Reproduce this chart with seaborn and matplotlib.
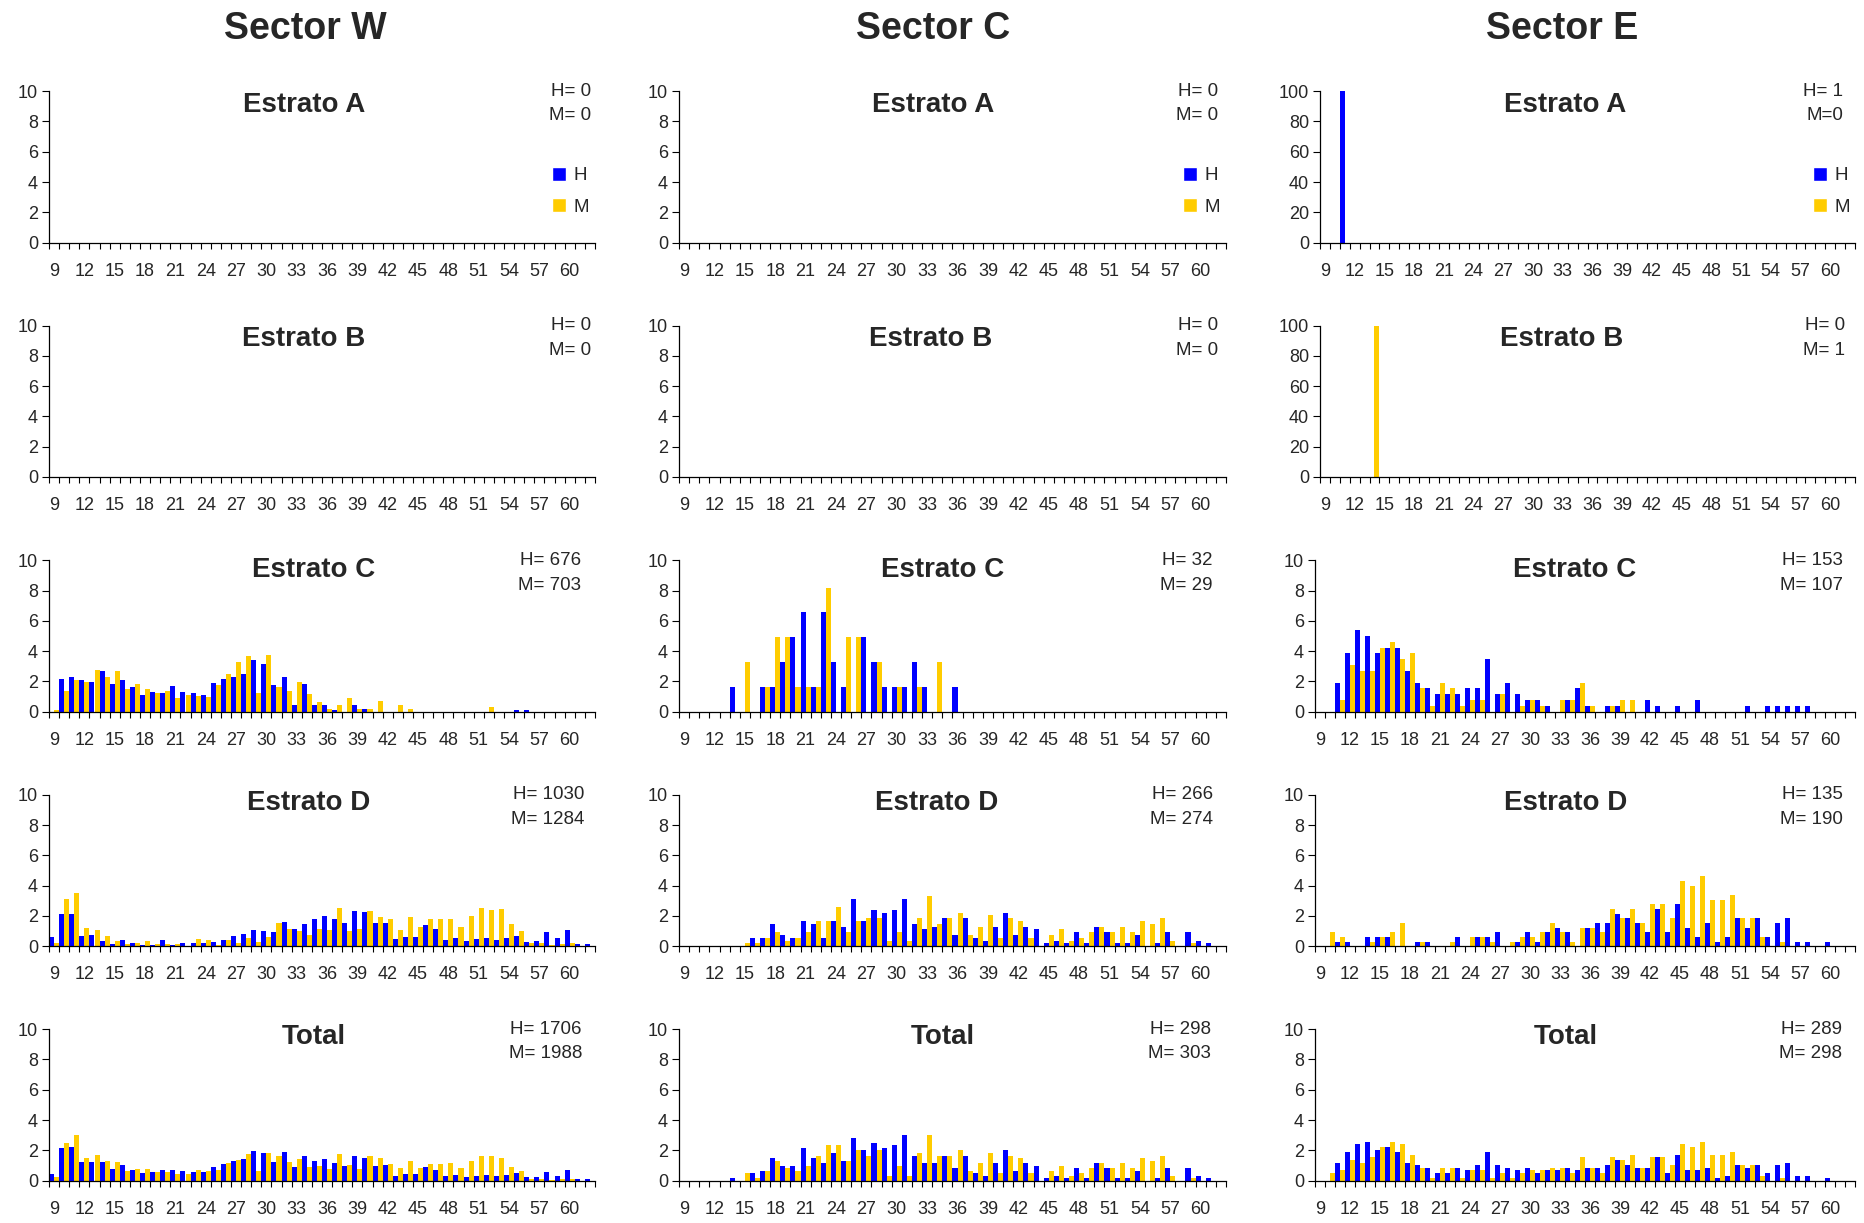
import matplotlib
matplotlib.use("Agg")
import matplotlib.pyplot as plt
import seaborn as sns
import pandas as pd
from matplotlib.patches import Patch

sns.set_theme(style="white")
plt.rcParams["font.family"] = ["Liberation Sans", "DejaVu Sans"]

# ---------------- data ----------------
sizes = [9, 10, 11, 12, 13, 14, 15, 16, 17,
         18, 19, 20, 21, 22, 23, 24, 25, 26,
         27, 28, 29, 30, 31, 32, 33, 34, 35,
         36, 37, 38, 39, 40, 41, 42, 43, 44,
         45, 46, 47, 48, 49, 50, 51, 52, 53,
         54, 55, 56, 57, 58, 59, 60, 61, 62]
tick_labels = [9, 12, 15, 18, 21, 24, 27, 30, 33, 36, 39, 42, 45, 48, 51, 54, 57, 60]
sectors = ["Sector W", "Sector C", "Sector E"]
strata = ["Estrato A", "Estrato B", "Estrato C", "Estrato D", "Total"]
sexes = ["H", "M"]

empty = [0, 0, 0, 0, 0, 0, 0, 0, 0,
         0, 0, 0, 0, 0, 0, 0, 0, 0,
         0, 0, 0, 0, 0, 0, 0, 0, 0,
         0, 0, 0, 0, 0, 0, 0, 0, 0,
         0, 0, 0, 0, 0, 0, 0, 0, 0,
         0, 0, 0, 0, 0, 0, 0, 0, 0]

# Sector W
w_c_h = [0, 2.15, 2.3, 2.1, 1.95, 2.7, 1.85, 2.1, 1.65,
         1.1, 1.3, 1.25, 1.7, 1.3, 1.25, 1.1, 1.9, 2.15,
         2.3, 2.5, 3.4, 3.15, 1.75, 2.3, 0.45, 1.85, 0.45,
         0.45, 0.1, 0, 0.45, 0.15, 0, 0, 0, 0,
         0, 0, 0, 0, 0, 0, 0, 0, 0,
         0, 0.1, 0.1, 0, 0, 0, 0, 0, 0]
w_c_m = [0.1, 1.35, 2.1, 1.95, 2.75, 2.3, 2.7, 1.5, 1.85,
         1.5, 1.25, 1.35, 0.9, 1.1, 1.05, 0.95, 1.75, 2.5,
         3.3, 3.65, 1.25, 3.75, 1.65, 1.35, 1.95, 1.15, 0.65,
         0.15, 0.45, 0.9, 0.15, 0.15, 0.7, 0, 0.45, 0.15,
         0, 0, 0, 0, 0, 0, 0, 0.3, 0,
         0, 0, 0, 0, 0, 0, 0, 0, 0]
w_d_h = [0.6, 2.1, 2.1, 0.65, 0.75, 0.35, 0.15, 0.4, 0.2,
         0.1, 0.1, 0.4, 0.1, 0.2, 0.2, 0.2, 0.3, 0.4,
         0.65, 0.8, 1.05, 1.0, 0.95, 1.6, 1.15, 1.45, 1.8,
         2.0, 1.8, 1.55, 2.3, 2.25, 1.55, 1.55, 0.5, 0.6,
         0.6, 1.4, 1.15, 0.4, 0.55, 0.35, 0.5, 0.55, 0.4,
         0.55, 0.65, 0.3, 0.35, 0.95, 0.55, 1.05, 0.15, 0.15]
w_d_m = [0.25, 3.1, 3.5, 1.2, 1.05, 0.65, 0.35, 0.15, 0.2,
         0.35, 0.15, 0.15, 0.15, 0, 0.5, 0.4, 0.1, 0.4,
         0.2, 0.55, 0.3, 0.6, 1.55, 1.15, 1.0, 0.75, 1.15,
         1.05, 2.5, 1.0, 1.15, 2.3, 1.95, 1.8, 1.05, 1.95,
         1.25, 1.8, 1.8, 1.8, 1.3, 2.0, 2.55, 2.4, 2.45,
         1.45, 1.0, 0.2, 0.2, 0.1, 0.15, 0.2, 0, 0]
w_t_h = [0.45, 2.15, 2.2, 1.25, 1.25, 1.25, 0.75, 1.05, 0.7,
         0.5, 0.6, 0.7, 0.7, 0.65, 0.55, 0.6, 0.9, 1.1,
         1.3, 1.45, 1.95, 1.85, 1.25, 1.9, 0.9, 1.65, 1.3,
         1.45, 1.15, 0.95, 1.65, 1.5, 0.95, 1.05, 0.3, 0.45,
         0.45, 0.9, 0.7, 0.3, 0.35, 0.25, 0.3, 0.35, 0.3,
         0.35, 0.5, 0.25, 0.25, 0.55, 0.3, 0.7, 0.1, 0.1]
w_t_m = [0.25, 2.5, 3.0, 1.5, 1.7, 1.3, 1.25, 0.65, 0.8,
         0.75, 0.55, 0.6, 0.45, 0.45, 0.7, 0.65, 0.7, 1.15,
         1.35, 1.75, 0.65, 1.85, 1.65, 1.25, 1.45, 0.9, 0.95,
         0.75, 1.75, 1.05, 0.8, 1.6, 1.5, 1.1, 0.85, 1.3,
         0.85, 1.1, 1.1, 1.15, 0.85, 1.3, 1.65, 1.65, 1.5,
         0.9, 0.65, 0.1, 0.1, 0.05, 0.1, 0.1, 0, 0]

# Sector C
c_c_h = [0, 0, 0, 0, 0, 1.64, 0, 0, 1.64,
         1.64, 3.28, 4.92, 6.56, 1.64, 6.56, 3.28, 1.64, 0,
         4.92, 3.28, 1.64, 1.64, 1.64, 3.28, 1.64, 0, 0,
         1.64, 0, 0, 0, 0, 0, 0, 0, 0,
         0, 0, 0, 0, 0, 0, 0, 0, 0,
         0, 0, 0, 0, 0, 0, 0, 0, 0]
c_c_m = [0, 0, 0, 0, 0, 0, 3.28, 0, 1.64,
         4.92, 4.92, 1.64, 1.64, 1.64, 8.20, 0, 4.92, 4.92,
         0, 3.28, 0, 1.64, 0, 1.64, 0, 3.28, 0,
         0, 0, 0, 0, 0, 0, 0, 0, 0,
         0, 0, 0, 0, 0, 0, 0, 0, 0,
         0, 0, 0, 0, 0, 0, 0, 0, 0]
c_d_h = [0, 0, 0, 0, 0, 0, 0, 0.56, 0.56,
         1.48, 0.74, 0.56, 1.67, 1.48, 0.56, 1.67, 1.30, 3.15,
         1.67, 2.41, 2.22, 2.41, 3.15, 1.48, 1.11, 1.30, 1.85,
         0.74, 1.85, 0.56, 0.37, 1.30, 2.22, 0.74, 1.30, 1.11,
         0.19, 0.37, 0.19, 0.93, 0.19, 1.30, 0.93, 0.19, 0.19,
         0.74, 0, 0.19, 0.93, 0, 0.93, 0.37, 0.19, 0]
c_d_m = [0, 0, 0, 0, 0, 0, 0.19, 0.19, 0.56,
         0.93, 0.37, 0.56, 0.93, 1.67, 1.67, 2.59, 0.93, 1.67,
         1.85, 1.85, 0.37, 0.93, 0.37, 1.85, 3.33, 1.48, 1.85,
         2.22, 0.74, 1.30, 2.04, 0.56, 1.85, 1.67, 0.56, 0,
         0.74, 1.11, 0.37, 0.56, 0.93, 1.30, 0.93, 1.30, 0.93,
         1.67, 1.48, 1.85, 0.37, 0, 0.19, 0, 0, 0]
c_t_h = [0, 0, 0, 0, 0, 0.17, 0, 0.50, 0.67,
         1.50, 1.00, 1.00, 2.16, 1.50, 1.16, 1.83, 1.33, 2.83,
         2.00, 2.50, 2.16, 2.33, 3.00, 1.66, 1.16, 1.16, 1.66,
         0.83, 1.66, 0.50, 0.33, 1.16, 2.00, 0.67, 1.16, 1.00,
         0.17, 0.33, 0.17, 0.83, 0.17, 1.16, 0.83, 0.17, 0.17,
         0.67, 0, 0.17, 0.83, 0, 0.83, 0.33, 0.17, 0]
c_t_m = [0, 0, 0, 0, 0, 0, 0.50, 0.17, 0.67,
         1.33, 0.83, 0.67, 1.00, 1.66, 2.33, 2.33, 1.33, 2.00,
         1.66, 2.00, 0.33, 1.00, 0.33, 1.83, 3.00, 1.66, 1.66,
         2.00, 0.67, 1.16, 1.83, 0.50, 1.66, 1.50, 0.50, 0,
         0.67, 1.00, 0.33, 0.50, 0.83, 1.16, 0.83, 1.16, 0.83,
         1.50, 1.33, 1.66, 0.33, 0, 0.17, 0, 0, 0]

# Sector E
e_a_h = [0, 0, 100, 0, 0, 0, 0, 0, 0,
         0, 0, 0, 0, 0, 0, 0, 0, 0,
         0, 0, 0, 0, 0, 0, 0, 0, 0,
         0, 0, 0, 0, 0, 0, 0, 0, 0,
         0, 0, 0, 0, 0, 0, 0, 0, 0,
         0, 0, 0, 0, 0, 0, 0, 0, 0]
e_b_m = [0, 0, 0, 0, 0, 100, 0, 0, 0,
         0, 0, 0, 0, 0, 0, 0, 0, 0,
         0, 0, 0, 0, 0, 0, 0, 0, 0,
         0, 0, 0, 0, 0, 0, 0, 0, 0,
         0, 0, 0, 0, 0, 0, 0, 0, 0,
         0, 0, 0, 0, 0, 0, 0, 0, 0]
e_c_h = [0, 0, 1.92, 3.85, 5.38, 5.00, 3.85, 4.23, 4.23,
         2.69, 1.92, 1.54, 1.15, 1.15, 1.15, 1.54, 1.54, 3.46,
         1.15, 1.92, 1.15, 0.77, 0.77, 0.38, 0, 0.77, 1.54,
         0.38, 0, 0.38, 0.38, 0, 0, 0.77, 0.38, 0,
         0.38, 0, 0.77, 0, 0, 0, 0, 0.38, 0,
         0.38, 0.38, 0.38, 0.38, 0.38, 0, 0, 0, 0]
e_c_m = [0, 0, 0.77, 3.08, 2.69, 2.69, 4.23, 4.62, 3.46,
         3.85, 1.54, 0.38, 1.92, 1.54, 0.38, 0.77, 0.77, 0,
         1.15, 0, 0.38, 0.77, 0.38, 0, 0.77, 0.77, 1.92,
         0.38, 0, 0.38, 0.77, 0.77, 0, 0, 0, 0,
         0, 0, 0, 0, 0, 0, 0, 0, 0,
         0, 0, 0, 0, 0, 0, 0, 0, 0]
e_d_h = [0, 0, 0.31, 0.31, 0, 0.62, 0.62, 0.62, 0,
         0, 0.31, 0.31, 0, 0, 0.62, 0, 0.62, 0.62,
         0.92, 0, 0.31, 0.92, 0.31, 0.92, 1.23, 0.92, 0,
         1.23, 1.54, 1.54, 2.15, 1.85, 1.54, 0.92, 2.46, 0.92,
         2.77, 1.23, 0.62, 1.54, 0.31, 0.62, 1.85, 1.23, 1.85,
         0.62, 1.54, 1.85, 0.31, 0.31, 0, 0.31, 0, 0]
e_d_m = [0, 0.92, 0.62, 0, 0, 0.31, 0.62, 0.92, 1.54,
         0, 0.31, 0, 0, 0.31, 0, 0.62, 0.62, 0.31,
         0, 0.31, 0.62, 0.62, 0.92, 1.54, 0.92, 0.31, 1.23,
         1.23, 0.92, 2.46, 1.85, 2.46, 1.54, 2.77, 2.77, 1.85,
         4.31, 4.00, 4.62, 3.08, 3.08, 3.38, 1.85, 1.85, 0.62,
         0, 0.31, 0, 0, 0, 0, 0, 0, 0]
e_t_h = [0, 0, 1.19, 1.87, 2.39, 2.56, 2.04, 2.21, 1.87,
         1.19, 1.02, 0.85, 0.51, 0.51, 0.85, 0.68, 1.02, 1.87,
         1.02, 0.85, 0.68, 0.85, 0.51, 0.68, 0.68, 0.85, 0.68,
         0.85, 0.85, 1.02, 1.36, 1.02, 0.85, 0.85, 1.53, 0.51,
         1.70, 0.68, 0.68, 0.85, 0.17, 0.34, 1.02, 0.85, 1.02,
         0.51, 1.02, 1.19, 0.34, 0.34, 0, 0.17, 0, 0]
e_t_m = [0, 0.51, 0.68, 1.36, 1.19, 1.53, 2.21, 2.56, 2.39,
         1.70, 0.85, 0.17, 0.85, 0.85, 0.17, 0.68, 0.68, 0.17,
         0.51, 0.17, 0.51, 0.68, 0.68, 0.85, 0.85, 0.51, 1.53,
         0.85, 0.51, 1.53, 1.36, 1.70, 0.85, 1.53, 1.53, 1.02,
         2.39, 2.21, 2.56, 1.70, 1.70, 1.87, 1.02, 1.02, 0.34,
         0, 0.17, 0, 0, 0, 0, 0, 0, 0]

h_labels = [["H= 0", "H= 0", "H= 676", "H= 1030", "H= 1706"],
            ["H= 0", "H= 0", "H= 32", "H= 266", "H= 298"],
            ["H= 1", "H= 0", "H= 153", "H= 135", "H= 289"]]
m_labels = [["M= 0", "M= 0", "M= 703", "M= 1284", "M= 1988"],
            ["M= 0", "M= 0", "M= 29", "M= 274", "M= 303"],
            ["M=0", "M= 1", "M= 107", "M= 190", "M= 298"]]

series = [
    [(empty, empty), (empty, empty), (w_c_h, w_c_m), (w_d_h, w_d_m), (w_t_h, w_t_m)],
    [(empty, empty), (empty, empty), (c_c_h, c_c_m), (c_d_h, c_d_m), (c_t_h, c_t_m)],
    [(e_a_h, empty), (empty, e_b_m), (e_c_h, e_c_m), (e_d_h, e_d_m), (e_t_h, e_t_m)],
]

colors = {"H": "#0000FF", "M": "#FFCC00"}

# ---------------- layout (pixels) ----------------
FW, FH = 1865, 1223
fig = plt.figure(figsize=(FW / 100, FH / 100), dpi=100)
fig.patch.set_facecolor("white")

col_lr = [(49, 595), (679, 1226), (1315, 1855)]
row_tb = [(91, 242.7), (325.7, 476.7), (560.3, 711.7), (794.7, 946.3), (1029, 1180.7)]
title_x = [305, 933, 1562]
# centre of each panel title (x, px) and its drop below the axis top
panel_title_x = [[304, 304, 313.5, 308.5, 313.5],
                 [933, 931, 943, 937, 943],
                 [1565, 1562, 1575, 1566, 1566]]
panel_title_dy = [13.5, 13.5, 9.5, 8.5, 8.5]
# right offset of the H=/M= count boxes from the axis end
count_off = [[4, 4, 14, 11, 13],
             [8, 8, 14, 13, 15],
             [12, 10, 12, 12, 13]]

tick_fs = 13
count_fs = 13.5

for ci in range(3):
    fig.text(title_x[ci] / FW, 1 - 29 / FH, sectors[ci], ha="center", va="center",
             fontsize=27, fontweight="bold")
    for ri in range(5):
        left, right = col_lr[ci]
        if ci == 2 and ri < 2:
            left = 1320
        top, bottom = row_tb[ri]
        ax = fig.add_axes([left / FW, 1 - bottom / FH, (right - left) / FW, (bottom - top) / FH])
        h_vals, m_vals = series[ci][ri]
        df = pd.DataFrame({
            "size": sizes + sizes,
            "pct": list(h_vals) + list(m_vals),
            "sexo": ["H"] * len(sizes) + ["M"] * len(sizes),
        })
        sns.barplot(data=df, x="size", y="pct", hue="sexo", order=sizes, hue_order=sexes,
                    palette=colors, width=1.0, saturation=1, errorbar=None,
                    linewidth=0, legend=False, ax=ax)
        big = (ci == 2 and ri < 2)
        ymax = 100 if big else 10
        ax.set_ylim(0, ymax)
        ax.set_yticks([0, 20, 40, 60, 80, 100] if big else [0, 2, 4, 6, 8, 10])
        ax.set_xlim(-0.5, len(sizes) - 0.5)
        ax.set_xticks([sizes.index(t) for t in tick_labels])
        ax.set_xticklabels([str(t) for t in tick_labels])
        ax.set_xticks([i - 0.5 for i in range(len(sizes) + 1)], minor=True)
        ax.tick_params(axis="x", which="major", length=0, pad=14.5, labelsize=tick_fs)
        ax.tick_params(axis="x", which="minor", length=4.2, width=0.8, direction="out",
                       color="black", bottom=True)
        ax.tick_params(axis="y", which="major", length=5, width=0.8, direction="out",
                       color="black", left=True, pad=3, labelsize=tick_fs)
        ax.set_xlabel("")
        ax.set_ylabel("")
        ax.set_facecolor("none")
        for s in ["top", "right"]:
            ax.spines[s].set_visible(False)
        for s in ["left", "bottom"]:
            ax.spines[s].set_color("black")
            ax.spines[s].set_linewidth(0.9)

        # panel title
        fig.text(panel_title_x[ci][ri] / FW, 1 - (top + panel_title_dy[ri]) / FH, strata[ri],
                 ha="center", va="center", fontsize=20, fontweight="bold")
        # counts
        rx = (right - count_off[ci][ri]) / FW
        fig.text(rx, 1 - (top + 0) / FH, h_labels[ci][ri], ha="right", va="center",
                 fontsize=count_fs)
        fig.text(rx, 1 - (top + 25) / FH, m_labels[ci][ri], ha="right", va="center",
                 fontsize=count_fs)

        if ri == 0:
            handles = [Patch(facecolor=colors["H"], label="H"),
                       Patch(facecolor=colors["M"], label="M")]
            ax.legend(handles=handles, loc="upper left", bbox_to_anchor=(0.921, 0.5),
                      frameon=False, handlelength=0.75, handleheight=0.75,
                      handletextpad=0.4, labelspacing=0.75, borderpad=0,
                      borderaxespad=0, fontsize=count_fs)

fig.savefig("out.png", dpi=100)
